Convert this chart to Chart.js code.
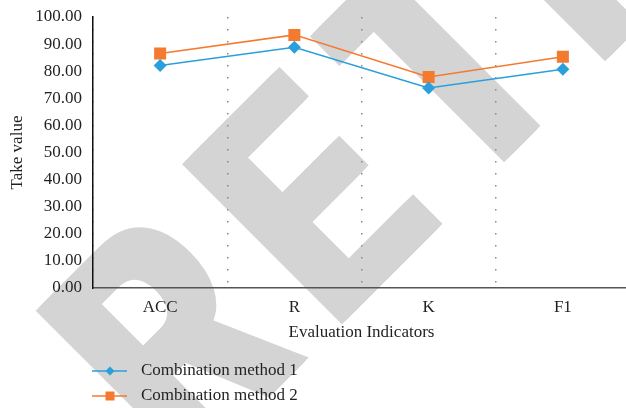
<!DOCTYPE html>
<html>
<head>
<meta charset="utf-8">
<script src="https://cdn.jsdelivr.net/npm/chart.js@4.4.1/dist/chart.umd.min.js"></script>
<style>
  html, body { margin: 0; padding: 0; background: #fff; overflow: hidden; }
  #wrap { width: 632px; height: 408px; }
</style>
</head>
<body>
<div id="wrap"><canvas id="c" width="632" height="408"></canvas></div>
<script>
// Evaluation indicators and the scores of both combination methods
const categories = ['ACC', 'R', 'K', 'F1'];
const method1 = [82.1, 88.8, 73.8, 80.7];
const method2 = [86.5, 93.4, 77.9, 85.3];
const seriesNames = ['Combination method 1', 'Combination method 2'];

const BLUE = '#2a9fdb';
const ORANGE = '#f47a30';
const TEXT = '#231f20';
const SERIF = '"Liberation Serif", "DejaVu Serif", serif';

// Large grey condensed "RETRACTED" stamp, running diagonally behind the chart
const stampPlugin = {
  id: 'stamp',
  beforeDraw(chart) {
    const ctx = chart.ctx;
    const word = 'RETRACTED';
    const squeeze = 0.68;             // horizontal condensing of the glyphs
    const starts = [-199, 8, 201, 380]; // baseline offsets of the first letters
    ctx.save();
    ctx.translate(331, 331);
    ctx.rotate(-Math.PI / 4);
    ctx.fillStyle = '#d4d4d4';
    ctx.strokeStyle = '#d4d4d4';
    ctx.lineWidth = 6;
    ctx.lineJoin = 'miter';
    ctx.font = 'bold 320px "Liberation Sans", Arial, sans-serif';
    ctx.textBaseline = 'alphabetic';
    let pos = 0;
    for (let i = 0; i < word.length; i++) {
      const ch = word[i];
      if (i < starts.length) pos = starts[i];
      for (const dx of [-8, -4, 0, 4, 8]) {
        ctx.save();
        ctx.translate(pos + dx, 0);
        ctx.scale(squeeze, 1);
        ctx.fillText(ch, 0, 0);
        ctx.strokeText(ch, 0, 0);
        ctx.restore();
      }
      pos += ctx.measureText(ch).width * squeeze;
    }
    ctx.restore();
  }
};

// Vertical legend in the lower left
const legendPlugin = {
  id: 'vlegend',
  afterDraw(chart) {
    const ctx = chart.ctx;
    const rows = [371, 396];
    chart.data.datasets.forEach((ds, i) => {
      const y = rows[i];
      ctx.save();
      ctx.strokeStyle = ds.borderColor;
      ctx.lineWidth = 1.5;
      ctx.beginPath();
      ctx.moveTo(92, y);
      ctx.lineTo(127, y);
      ctx.stroke();
      ctx.fillStyle = ds.pointBackgroundColor;
      ctx.beginPath();
      if (ds.pointStyle === 'rectRot') {
        const r = 4.5;
        ctx.moveTo(110, y - r);
        ctx.lineTo(110 + r, y);
        ctx.lineTo(110, y + r);
        ctx.lineTo(110 - r, y);
        ctx.closePath();
      } else {
        ctx.rect(105.5, y - 4.5, 9, 9);
      }
      ctx.fill();
      ctx.fillStyle = TEXT;
      ctx.font = '17px ' + SERIF;
      ctx.textBaseline = 'middle';
      ctx.textAlign = 'left';
      ctx.fillText(ds.label, 141, y);
      ctx.restore();
    });
  }
};

new Chart(document.getElementById('c'), {
  type: 'line',
  data: {
    labels: categories,
    datasets: [
      {
        label: seriesNames[0],
        data: method1,
        borderColor: BLUE,
        backgroundColor: BLUE,
        pointBackgroundColor: BLUE,
        pointBorderColor: BLUE,
        pointStyle: 'rectRot',
        pointRadius: 6.5,
        pointBorderWidth: 0,
        borderWidth: 1.5,
        tension: 0
      },
      {
        label: seriesNames[1],
        data: method2,
        borderColor: ORANGE,
        backgroundColor: ORANGE,
        pointBackgroundColor: ORANGE,
        pointBorderColor: ORANGE,
        pointStyle: 'rect',
        pointRadius: 8.5,
        pointBorderWidth: 0,
        borderWidth: 1.5,
        tension: 0
      }
    ]
  },
  options: {
    responsive: false,
    animation: false,
    layout: { autoPadding: false, padding: { top: 17, right: 2, bottom: 63, left: 0 } },
    plugins: {
      legend: { display: false },
      tooltip: { enabled: false }
    },
    scales: {
      x: {
        offset: true,
        grid: {
          display: true,
          offset: true,
          color: '#8a8a8a',
          lineWidth: 1.5,
          drawTicks: false
        },
        border: { display: true, color: '#555555', width: 1.5, dash: [1.5, 10.5] },
        ticks: { color: TEXT, font: { family: SERIF, size: 17 }, padding: 9 },
        title: {
          display: true,
          text: 'Evaluation Indicators',
          color: TEXT,
          font: { family: SERIF, size: 17 },
          padding: { top: 4, bottom: 2 }
        },
        afterFit(scale) { scale.height = 57; }
      },
      y: {
        min: 0,
        max: 100,
        ticks: {
          stepSize: 10,
          color: TEXT,
          font: { family: SERIF, size: 17 },
          padding: 11,
          callback: v => Number(v).toFixed(2)
        },
        grid: { display: false, drawTicks: false },
        border: { display: true, color: '#111111', width: 1.5 },
        title: {
          display: true,
          text: 'Take value',
          color: TEXT,
          font: { family: SERIF, size: 17 },
          padding: { top: 7, bottom: 0 }
        },
        afterFit(scale) { scale.width = 93; scale.paddingTop = 0; }
      }
    }
  },
  plugins: [stampPlugin, legendPlugin]
});
</script>
</body>
</html>
